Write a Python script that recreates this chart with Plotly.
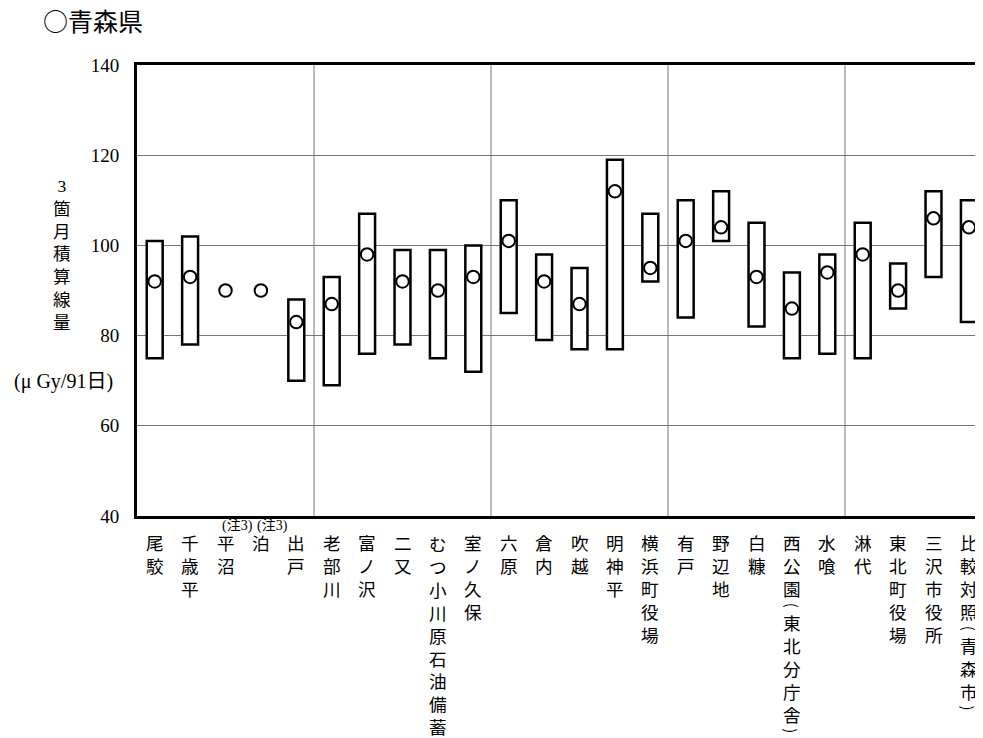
import plotly.graph_objects as go

# ---------------- data ----------------
categories = ["尾駮", "千歳平", "平沼", "泊", "出戸",
              "老部川", "富ノ沢", "二又", "むつ小川原石油備蓄", "室ノ久保",
              "六原", "倉内", "吹越", "明神平", "横浜町役場",
              "有戸", "野辺地", "白糠", "西公園(東北分庁舎)", "水喰",
              "淋代", "東北町役場", "三沢市役所", "比較対照(青森市)"]
max_vals = [101, 102, None, None, 88,
            93, 107, 99, 99, 100,
            110, 98, 95, 119, 107,
            110, 112, 105, 94, 98,
            105, 96, 112, 110]
min_vals = [75, 78, None, None, 70,
            69, 76, 78, 75, 72,
            85, 79, 77, 77, 92,
            84, 101, 82, 75, 76,
            75, 86, 93, 83]
mean_vals = [92, 93, 90, 90, 83,
             87, 98, 92, 90, 93,
             101, 92, 87, 112, 95,
             101, 104, 93, 86, 94,
             98, 90, 106, 104]
note_categories = ["平沼", "泊"]
note_text = "(注3)"
y_ticks = [40, 60, 80, 100, 120, 140]
group_size = 5
title_text = "○青森県"
y_title_vertical = "3箇月積算線量"
y_unit = "(μ Gy/91日)"

# ---------------- layout constants ----------------
OFF = 8                      # page body margin of the html page
W, H = 983 - OFF, 738 - OFF
ML, MR, MT, MB = 137 - OFF, 0, 65 - OFF, 222
PW = W - ML - MR
PH = H - MT - MB
UNIT_PX = 35.4
x_max = PW / UNIT_PX - 0.5

def px_x(p):                 # page pixel -> paper x
    return (p - OFF - ML) / PW

def px_y(p):                 # page pixel -> paper y
    return (H - MB - (p - OFF)) / PH

CJK = "Noto Sans CJK JP"
SERIF = "Liberation Serif, Noto Sans CJK JP"

idx = list(range(len(categories)))
heights = [None if (a is None or b is None) else a - b for a, b in zip(max_vals, min_vals)]

fig = go.Figure()
fig.add_trace(go.Bar(
    x=idx, y=heights, base=min_vals, width=0.45,
    marker=dict(color="white", line=dict(color="black", width=2.5)),
    hoverinfo="skip"))
fig.add_trace(go.Scatter(
    x=idx, y=mean_vals, mode="markers",
    marker=dict(symbol="circle", size=12.5, color="white",
                line=dict(color="black", width=2)),
    hoverinfo="skip"))

# group separator lines
shapes = []
n = len(categories)
for g in range(group_size, n, group_size):
    shapes.append(dict(type="line", xref="x", yref="paper",
                       x0=g - 0.5, x1=g - 0.5, y0=0, y1=1,
                       line=dict(color="#777777", width=1), layer="below"))

annotations = []
# vertical category labels (runs of characters, parentheses turned)
CHAR_H = 22.9
PAREN_H = 11
START = 15.5
LABEL_SIZE = CHAR_H / 1.3
for i, name in enumerate(categories):
    top = START
    run = []

    def flush(run, top):
        if not run:
            return top
        center = top + len(run) * CHAR_H / 2
        annotations.append(dict(
            x=i, xref="x", y=0, yref="paper", yshift=-center,
            text="<br>".join(run), showarrow=False,
            xanchor="center", yanchor="middle", align="center", borderpad=0,
            font=dict(family=CJK, size=LABEL_SIZE, color="black")))
        return top + len(run) * CHAR_H

    for ch in name:
        if ch in "()":
            top = flush(run, top)
            run = []
            annotations.append(dict(
                x=i, xref="x", y=0, yref="paper", yshift=-(top + PAREN_H / 2),
                text=ch, showarrow=False, xanchor="center", yanchor="middle",
                textangle=90, borderpad=0,
                font=dict(family=CJK, size=15, color="black")))
            top += PAREN_H
        else:
            run.append(ch)
    flush(run, top)

for name in note_categories:
    i = categories.index(name)
    annotations.append(dict(
        x=i, xref="x", y=0, yref="paper", xshift=12, yshift=-10,
        text=note_text, showarrow=False, xanchor="center", yanchor="middle",
        borderpad=0, font=dict(family=SERIF, size=14, color="black")))

# y-axis title (vertical) and unit
annotations.append(dict(
    x=px_x(62), xref="paper", y=px_y(254), yref="paper",
    text="<br>".join(list(y_title_vertical)), showarrow=False,
    xanchor="center", yanchor="middle", align="center",
    font=dict(family=SERIF, size=17.5, color="black")))
annotations.append(dict(
    x=px_x(63), xref="paper", y=px_y(381), yref="paper",
    text=y_unit, showarrow=False, xanchor="center", yanchor="middle",
    borderpad=0, font=dict(family=SERIF, size=20, color="black")))

fig.update_layout(
    width=W, height=H,
    margin=dict(l=ML, r=MR, t=MT, b=MB, pad=0),
    paper_bgcolor="white", plot_bgcolor="white",
    showlegend=False,
    title=dict(text=title_text, xref="container", yref="container",
               x=(43 - OFF) / W, xanchor="left", y=1 - (22 - OFF) / H,
               yanchor="middle",
               font=dict(family=CJK, size=25, color="black")),
    xaxis=dict(range=[-0.5, x_max], showticklabels=False, showgrid=False,
               zeroline=False, showline=True, mirror=True,
               linecolor="black", linewidth=3, ticks=""),
    yaxis=dict(range=[y_ticks[0], y_ticks[-1]], tickvals=y_ticks,
               showgrid=True, gridcolor="#777777", gridwidth=1,
               zeroline=False, showline=True, linecolor="black", linewidth=3,
               ticks="", ticklabelstandoff=11,
               tickfont=dict(family=SERIF, size=19, color="black")),
    shapes=shapes,
    annotations=annotations,
)

fig.write_html("out.html")
